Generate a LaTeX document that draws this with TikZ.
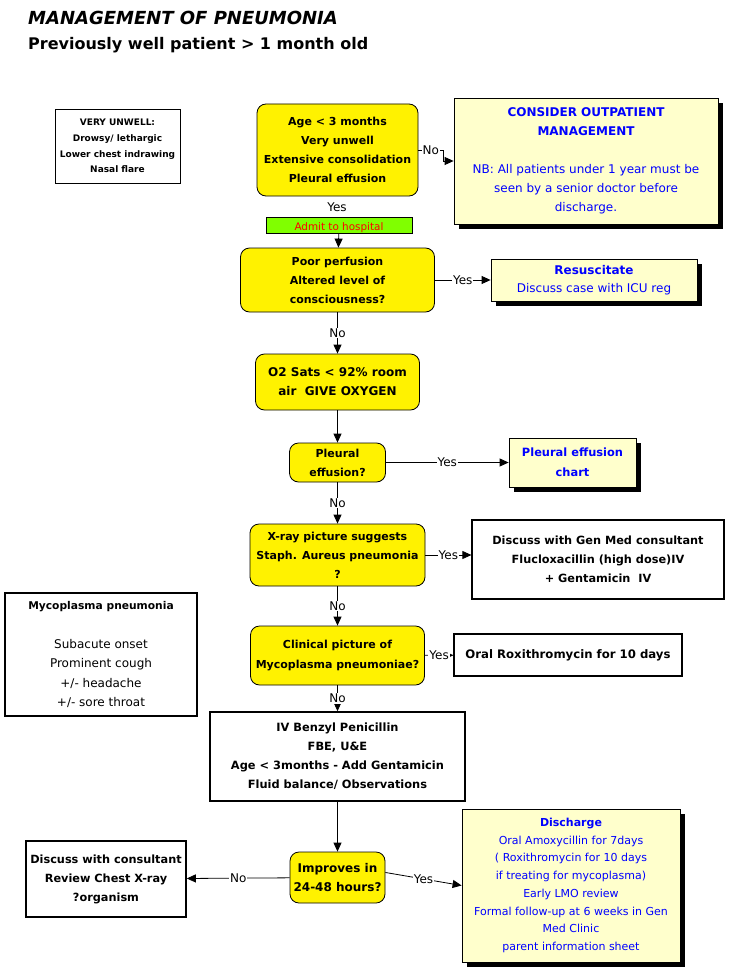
\documentclass[tikz,border=0pt]{standalone}
\usepackage{fontspec}
\setmainfont{DejaVu Sans}
\usepackage{tikz}
\usetikzlibrary{arrows.meta, shadows}

\definecolor{noteyellow}{HTML}{FFFFCC}
\definecolor{admitgreen}{HTML}{80FF00}

\tikzset{
    decide/.style={draw, fill=yellow, rounded corners=9pt, line width=0.8pt, align=center, inner sep=0pt, font=\bfseries\fontsize{11}{19}\selectfont},
    note/.style={draw, fill=noteyellow, line width=0.8pt, align=center, inner sep=0pt, text=blue, font=\fontsize{12}{19}\selectfont, drop shadow={shadow xshift=5pt, shadow yshift=-5pt, fill=black, opacity=1}},
    action/.style={draw, fill=white, line width=1.6pt, align=center, inner sep=0pt, font=\bfseries\fontsize{11.3}{19}\selectfont},
    lbl/.style={fill=white, inner sep=1pt, font=\fontsize{12}{14}\selectfont},
    arr/.style={-{Triangle[length=9pt,width=8pt]}, line width=0.8pt},
}

\begin{document}
\begin{tikzpicture}[x=1pt, y=-1pt]
    \useasboundingbox (0,0) rectangle (729,971);
    \fill [white] (0,0) rectangle (729,971);

    \node (T1) [anchor=west, inner sep=0pt, font=\bfseries\itshape\fontsize{18}{20}\selectfont] at (28,18) {MANAGEMENT OF PNEUMONIA};
    \node (T2) [anchor=west, inner sep=0pt, font=\bfseries\fontsize{16}{20}\selectfont] at (28,45) {Previously well patient > 1 month old};

    \node (unwell) [action, line width=0.8pt, minimum width=125pt, minimum height=74pt, font=\bfseries\fontsize{9}{15.7}\selectfont] at (117.5,146) {VERY UNWELL:\\Drowsy/ lethargic\\Lower chest indrawing\\Nasal flare};

    \node (age) [decide, minimum width=161pt, minimum height=92pt] at (337.5,150) {Age < 3 months\\Very unwell\\Extensive consolidation\\Pleural effusion};
    \node (outp) [note, minimum width=264pt, minimum height=126pt] at (586,161) {\textbf{CONSIDER OUTPATIENT}\\\textbf{MANAGEMENT}\\[19pt]NB: All patients under 1 year must be\\seen by a senior doctor before\\discharge.};
    \node (yes1) [lbl] at (337,207) {Yes};
    \node (admit) [draw, fill=admitgreen, line width=0.8pt, inner sep=0pt, text=red, minimum width=146pt, minimum height=16pt, text height=10pt, text depth=0pt, font=\fontsize{10.4}{12}\selectfont] at (339,225) {Admit to hospital};

    \node (poor) [decide, minimum width=194pt, minimum height=64pt] at (337.5,280) {Poor perfusion\\Altered level of\\consciousness?};
    \node (resus) [note, minimum width=206pt, minimum height=42pt, font=\fontsize{12}{18}\selectfont] at (594,280) {\textbf{Resuscitate}\\Discuss case with ICU reg};

    \node (oxy) [decide, minimum width=164pt, minimum height=56pt, font=\bfseries\fontsize{12}{19}\selectfont] at (337.5,382) {O2 Sats < 92\% room\\air\ \ GIVE OXYGEN};

    \node (pleur) [decide, minimum width=96pt, minimum height=39pt] at (337.5,462.5) {Pleural\\effusion?};
    \node (chart) [note, minimum width=127pt, minimum height=49pt, font=\bfseries\fontsize{11.4}{20}\selectfont] at (572.5,462.5) {Pleural effusion\\chart};

    \node (staph) [decide, minimum width=175pt, minimum height=62pt] at (337.5,555) {X-ray picture suggests\\Staph. Aureus pneumonia\\?};
    \node (genmed) [action, line width=1.2pt, minimum width=252pt, minimum height=79pt] at (598,559.5) {Discuss with Gen Med consultant\\Flucloxacillin (high dose)IV\\+ Gentamicin\ \ IV};

    \node (myco) [decide, minimum width=174pt, minimum height=59pt, font=\bfseries\fontsize{11}{20}\selectfont] at (337.5,655.5) {Clinical picture of\\Mycoplasma pneumoniae?};
    \node (roxi) [action, line width=1.2pt, minimum width=228pt, minimum height=42pt, font=\bfseries\fontsize{11.7}{19}\selectfont] at (568,655) {Oral Roxithromycin for 10 days};

    \node (mycobox) [action, minimum width=192pt, minimum height=123pt, font=\fontsize{12}{19.5}\selectfont] at (101,654.5) {\textbf{\fontsize{10.7}{19.5}\selectfont Mycoplasma pneumonia}\\[19pt]Subacute onset\\Prominent cough\\+/- headache\\+/- sore throat};

    \node (benzyl) [action, minimum width=255pt, minimum height=89pt, font=\bfseries\fontsize{11.4}{19}\selectfont] at (337.5,756.5) {IV Benzyl Penicillin\\FBE, U\&E\\Age < 3months - Add Gentamicin\\Fluid balance/ Observations};

    \node (improve) [decide, minimum width=95pt, minimum height=51pt, font=\bfseries\fontsize{12}{19}\selectfont] at (337.5,877.5) {Improves in\\24-48 hours?};
    \node (consult) [action, minimum width=160pt, minimum height=76pt] at (106,879) {Discuss with consultant\\Review Chest X-ray\\?organism};
    \node (discharge) [note, minimum width=218pt, minimum height=153pt, font=\fontsize{11}{17.7}\selectfont] at (571,885.5) {\textbf{Discharge}\\Oral Amoxycillin for 7days\\( Roxithromycin for 10 days\\if treating for mycoplasma)\\Early LMO review\\Formal follow-up at 6 weeks in Gen\\Med Clinic\\parent information sheet};

    \coordinate (k1) at (443,150);
    \draw [arr] (age.east) -- node [lbl] {No} (k1) |- (outp.west);
    \draw [arr] (admit) -- (poor);
    \draw [arr] (poor) -- node [lbl] {Yes} (resus);
    \draw [arr] (poor) -- node [lbl] {No} (oxy);
    \draw [arr] (oxy) -- (pleur);
    \draw [arr] (pleur) -- node [lbl] {Yes} (chart);
    \draw [arr] (pleur) -- node [lbl] {No} (staph);
    \draw [arr] (staph.east) -- node [lbl] {Yes} (staph.east -| genmed.west);
    \draw [arr] (staph) -- node [lbl] {No} (myco);
    \draw [arr] (myco) -- node [lbl] {Yes} (roxi);
    \draw [arr] (myco) -- node [lbl] {No} (benzyl);
    \draw [arr] (benzyl) -- (improve);
    \draw [arr] (improve) -- node [lbl] {No} (consult);
    \draw [arr] (improve.6) -- node [lbl] {Yes} (discharge.west);
\end{tikzpicture}
\end{document}
